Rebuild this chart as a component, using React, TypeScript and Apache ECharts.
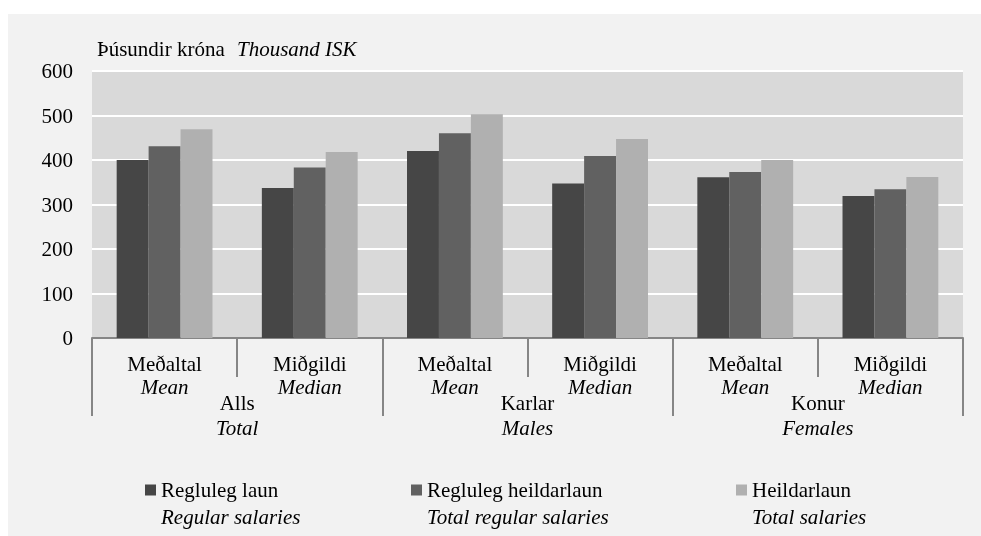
import React, { useEffect, useRef } from 'react';
import * as echarts from 'echarts';

const subCategories = ['Meðaltal', 'Miðgildi', 'Meðaltal', 'Miðgildi', 'Meðaltal', 'Miðgildi'];
const subCategoriesEn = ['Mean', 'Median', 'Mean', 'Median', 'Mean', 'Median'];
const groups = ['Alls', 'Karlar', 'Konur'];
const groupsEn = ['Total', 'Males', 'Females'];
const seriesNames = ['Regluleg laun', 'Regluleg heildarlaun', 'Heildarlaun'];
const seriesNamesEn = ['Regular salaries', 'Total regular salaries', 'Total salaries'];
const regularSalaries = [400, 337, 420, 347, 361, 319];
const totalRegularSalaries = [431, 383, 460, 409, 373, 334];
const totalSalaries = [469, 418, 503, 447, 400, 362];
const seriesData = [regularSalaries, totalRegularSalaries, totalSalaries];
const yMin = 0;
const yMax = 600;
const yInterval = 100;
const unitLabel = 'Þúsundir króna';
const unitLabelEn = 'Thousand ISK';

const FONT = 'Liberation Serif';
const colors = ['#464646', '#616161', '#b0b0b0'];
const legendLeft = [137, 403, 728];

export default function App() {
  const ref = useRef<HTMLDivElement>(null);
  useEffect(() => {
    if (!ref.current) return;
    const chart = echarts.init(ref.current, null, { renderer: 'svg' });
    const option: any = {
      animation: false,
      textStyle: { fontFamily: FONT, color: '#000' },
      graphic: [
        { type: 'rect', z: -10, shape: { x: 0, y: 6, width: 973, height: 522 }, style: { fill: '#f2f2f2' } },
        { type: 'text', x: 89, y: 41, style: { text: unitLabel, fontFamily: FONT, fontSize: 21, fill: '#000', verticalAlign: 'middle' } },
        { type: 'text', x: 229, y: 41, style: { text: unitLabelEn, fontFamily: FONT, fontSize: 21, fontStyle: 'italic', fill: '#000', verticalAlign: 'middle' } },
        ...seriesNamesEn.map((t, i) => ({
          type: 'text', x: legendLeft[i] + 16, y: 509,
          style: { text: t, fontFamily: FONT, fontSize: 21, fontStyle: 'italic', fill: '#000', verticalAlign: 'middle' },
        })),
      ],
      grid: {
        left: 84, top: 63, right: 18, bottom: 198,
        show: true, backgroundColor: '#d9d9d9', borderWidth: 0,
      },
      legend: seriesNames.map((n, i) => ({
        data: [n], left: legendLeft[i], top: 470, itemWidth: 11, itemHeight: 11,
        icon: 'rect', itemGap: 0, padding: 0,
        textStyle: { fontFamily: FONT, fontSize: 21, color: '#000', lineHeight: 24 },
      })),
      xAxis: [
        {
          type: 'category', data: subCategories, position: 'bottom',
          axisLine: { show: true, lineStyle: { color: '#868686', width: 2 } },
          axisTick: { show: true, length: 39, lineStyle: { color: '#868686', width: 2 } },
          axisLabel: {
            margin: 14,
            formatter: (v: string, i: number) => `{a|${v}}\n{b|${subCategoriesEn[i]}}`,
            rich: {
              a: { fontFamily: FONT, fontSize: 21, lineHeight: 23, color: '#000' },
              b: { fontFamily: FONT, fontSize: 21, lineHeight: 23, color: '#000', fontStyle: 'italic' },
            },
          },
        },
        {
          type: 'category', data: groups, position: 'bottom',
          axisLine: { show: false },
          axisTick: { show: true, length: 78, lineStyle: { color: '#868686', width: 2 } },
          axisLabel: {
            margin: 52,
            formatter: (v: string, i: number) => `{a|${v}}\n{b|${groupsEn[i]}}`,
            rich: {
              a: { fontFamily: FONT, fontSize: 21, lineHeight: 25, color: '#000' },
              b: { fontFamily: FONT, fontSize: 21, lineHeight: 25, color: '#000', fontStyle: 'italic' },
            },
          },
        },
      ],
      yAxis: {
        type: 'value', min: yMin, max: yMax, interval: yInterval,
        axisLine: { show: false }, axisTick: { show: false },
        splitLine: { show: true, lineStyle: { color: '#ffffff', width: 2 } },
        axisLabel: { margin: 19, fontFamily: FONT, fontSize: 21, color: '#000' },
      },
      series: seriesNames.map((n, i) => ({
        type: 'bar', name: n, data: seriesData[i], xAxisIndex: 0,
        barGap: '0%', barCategoryGap: '34%',
        itemStyle: { color: colors[i] },
      })),
    };
    chart.setOption(option);
    return () => chart.dispose();
  }, []);
  return <div ref={ref} style={{ position: 'fixed', left: 8, top: 8, width: 973, height: 528 }} />;
}
